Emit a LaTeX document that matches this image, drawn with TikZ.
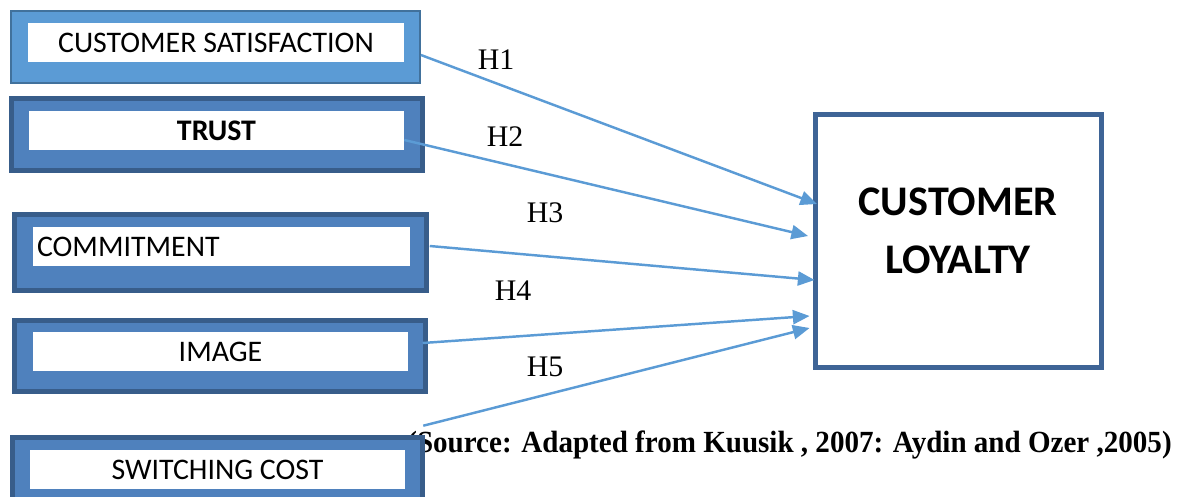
\documentclass[tikz,border=0pt]{standalone}
\usepackage{fontspec}
\setmainfont{Liberation Serif}
\newfontfamily\carlito{Carlito}
\usetikzlibrary{arrows.meta,calc}
\definecolor{lightblue}{HTML}{5B9BD5}
\definecolor{lightedge}{HTML}{41719C}
\definecolor{midblue}{HTML}{4F81BD}
\definecolor{darkedge}{HTML}{385D8A}
\definecolor{loyedge}{HTML}{3E6496}
\begin{document}
\begin{tikzpicture}[x=0.02cm, y=-0.02cm]
    \tikzstyle{outbox} = [rectangle, fill=midblue, draw=darkedge, line width=2.6pt, inner sep=0pt]
    \tikzstyle{inbox} = [rectangle, fill=white, minimum width=7.5cm, minimum height=0.78cm, inner sep=0pt, text centered, font=\carlito\fontsize{17}{20}\selectfont]
    \tikzstyle{hyp} = [font=\fontsize{17}{20}\selectfont, inner sep=0pt]
    \tikzstyle{arrow} = [draw=lightblue, line width=1.4pt, -{Triangle[length=9.5pt, width=8pt]}]
    \useasboundingbox (0,0) rectangle (1180,497);
    \clip (0,0) rectangle (1180,497);
    \node (cite) [anchor=base west, inner sep=0pt, font=\bfseries\fontsize{17.5}{20}\selectfont] at (407,452) {\scalebox{0.945}[1]{(Source: Adapted from Kuusik , 2007: Aydin and Ozer ,2005)}};
    \node (sat) [outbox, fill=lightblue, draw=lightedge, line width=1.1pt, minimum width=8.18cm, minimum height=1.44cm] at (215.5,47) {};
    \node (satin) [inbox, minimum width=7.52cm] at (216,42.5) {CUSTOMER SATISFACTION};
    \node (trust) [outbox, minimum width=8.22cm, minimum height=1.44cm] at (217,134.5) {};
    \node (trustin) [inbox] at (216.5,130.5) {\bfseries TRUST};
    \node (comm) [outbox, minimum width=8.24cm, minimum height=1.52cm] at (220.5,252.5) {};
    \node (commin) [inbox, text width=7.38cm, align=left, inner xsep=0.08cm] at (221.5,246.5) {COMMITMENT};
    \node (img) [outbox, minimum width=8.22cm, minimum height=1.42cm] at (220,356) {};
    \node (imgin) [inbox] at (220.5,351.5) {IMAGE};
    \node (switch) [outbox, minimum width=8.2cm, minimum height=1.42cm] at (217.5,473) {};
    \node (switchin) [inbox] at (217.5,469.5) {SWITCHING COST};
    \node (loy) [rectangle, draw=loyedge, line width=2.8pt, fill=white, minimum width=5.72cm, minimum height=5.06cm] at (958.5,241) {};
    \node (loytext) [align=center, font=\carlito\bfseries\fontsize{24}{33}\selectfont] at (958,231) {CUSTOMER\\LOYALTY};
    \node (h1) [hyp] at (496,60) {H1};
    \node (h2) [hyp] at (505,137) {H2};
    \node (h3) [hyp] at (545,213) {H3};
    \node (h4) [hyp] at (513,291) {H4};
    \node (h5) [hyp] at (545,367) {H5};
    \draw[arrow] ($(sat.east)+(0,8)$) to ($(loy.west)+(4,-37)$);
    \draw[arrow] ($(trustin.east)+(0,9.5)$) to ($(loy.west)+(-5,-5)$);
    \draw[arrow] ($(comm.east)+(1,-6.5)$) to ($(loy.west)+(1.5,39)$);
    \draw[arrow] ($(img.east)+(-5,-13)$) to ($(loy.west)+(-3.5,75)$);
    \draw[arrow] ($(switch.north east)+(-1.5,-9.5)$) to ($(loy.west)+(-3.5,87)$);
\end{tikzpicture}
\end{document}
